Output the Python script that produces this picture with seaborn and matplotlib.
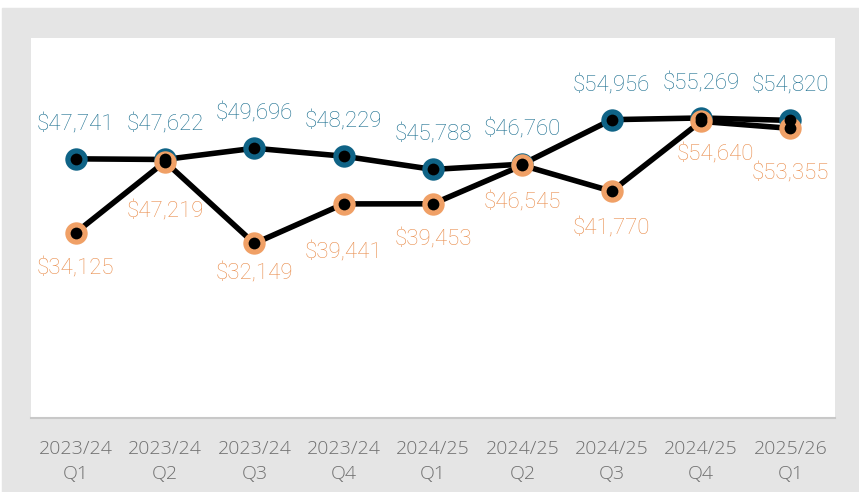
import seaborn as sns
import matplotlib.pyplot as plt
import pandas as pd
from matplotlib.patches import Rectangle

# data
periods = ["2023/24\nQ1", "2023/24\nQ2", "2023/24\nQ3", "2023/24\nQ4", "2024/25\nQ1",
           "2024/25\nQ2", "2024/25\nQ3", "2024/25\nQ4", "2025/26\nQ1"]
blue_vals = [47741, 47622, 49696, 48229, 45788, 46760, 54956, 55269, 54820]
orange_vals = [34125, 47219, 32149, 39441, 39453, 46545, 41770, 54640, 53355]

# label placement (offset points) for orange labels, they dodge a bit
orange_dy = [-26, -36, -22, -35, -26, -27, -27, -24, -33]
orange_dx = [0, 0, 0, 0, 0, 0, 0, 10, 0]

sns.set_style("white")
plt.rcParams['font.family'] = ['Roboto', 'DejaVu Sans']

df = pd.DataFrame({
    "period": periods * 2,
    "value": blue_vals + orange_vals,
    "series": ["blue"] * len(periods) + ["orange"] * len(periods),
})

ring = {"blue": "#0f6386", "orange": "#f0a066"}
text_col = {"blue": "#1a6e8f", "orange": "#e98d4c"}

fig = plt.figure(figsize=(8.59, 4.92), dpi=100)
fig.patches.append(Rectangle((2 / 859, 0), 1, 1 - 8 / 492, transform=fig.transFigure,
                             color="#e5e5e5", zorder=-1))
ax = fig.add_axes([31 / 859, 74 / 492, 804 / 859, 380 / 492])

for s in ["blue", "orange"]:
    d = df[df.series == s]
    sns.lineplot(data=d, x="period", y="value", color="black", linewidth=4,
                 sort=False, ax=ax, legend=False)
    sns.scatterplot(data=d, x="period", y="value", color=ring[s], s=260,
                    linewidth=0, ax=ax, legend=False, zorder=3)
    sns.scatterplot(data=d, x="period", y="value", color="black", s=72,
                    linewidth=0, ax=ax, legend=False, zorder=4)

for i, v in enumerate(blue_vals):
    ax.annotate(f"${v:,}", (i, v), xytext=(0, 24.5), textcoords="offset points",
                ha="center", va="center", fontsize=16, fontweight="light",
                color=text_col["blue"])
for i, v in enumerate(orange_vals):
    ax.annotate(f"${v:,}", (i, v), xytext=(orange_dx[i], orange_dy[i]),
                textcoords="offset points", ha="center", va="center", fontsize=16,
                fontweight="light", color=text_col["orange"])

ax.set_xlim(-0.5, 8.5)
ax.set_ylim(0, 70000)
ax.set_xlabel("")
ax.set_ylabel("")
ax.set_yticks([])
ax.tick_params(axis="x", length=0, pad=16, labelsize=14, labelcolor="#707070")
for lab in ax.get_xticklabels():
    lab.set_fontfamily(["Open Sans", "DejaVu Sans"])
    lab.set_fontweight("light")
    lab.set_linespacing(1.5)
for side in ["top", "left", "right"]:
    ax.spines[side].set_visible(False)
ax.spines["bottom"].set_color("#c8c8c8")
ax.spines["bottom"].set_linewidth(1.5)

fig.savefig("out.png", dpi=100)
